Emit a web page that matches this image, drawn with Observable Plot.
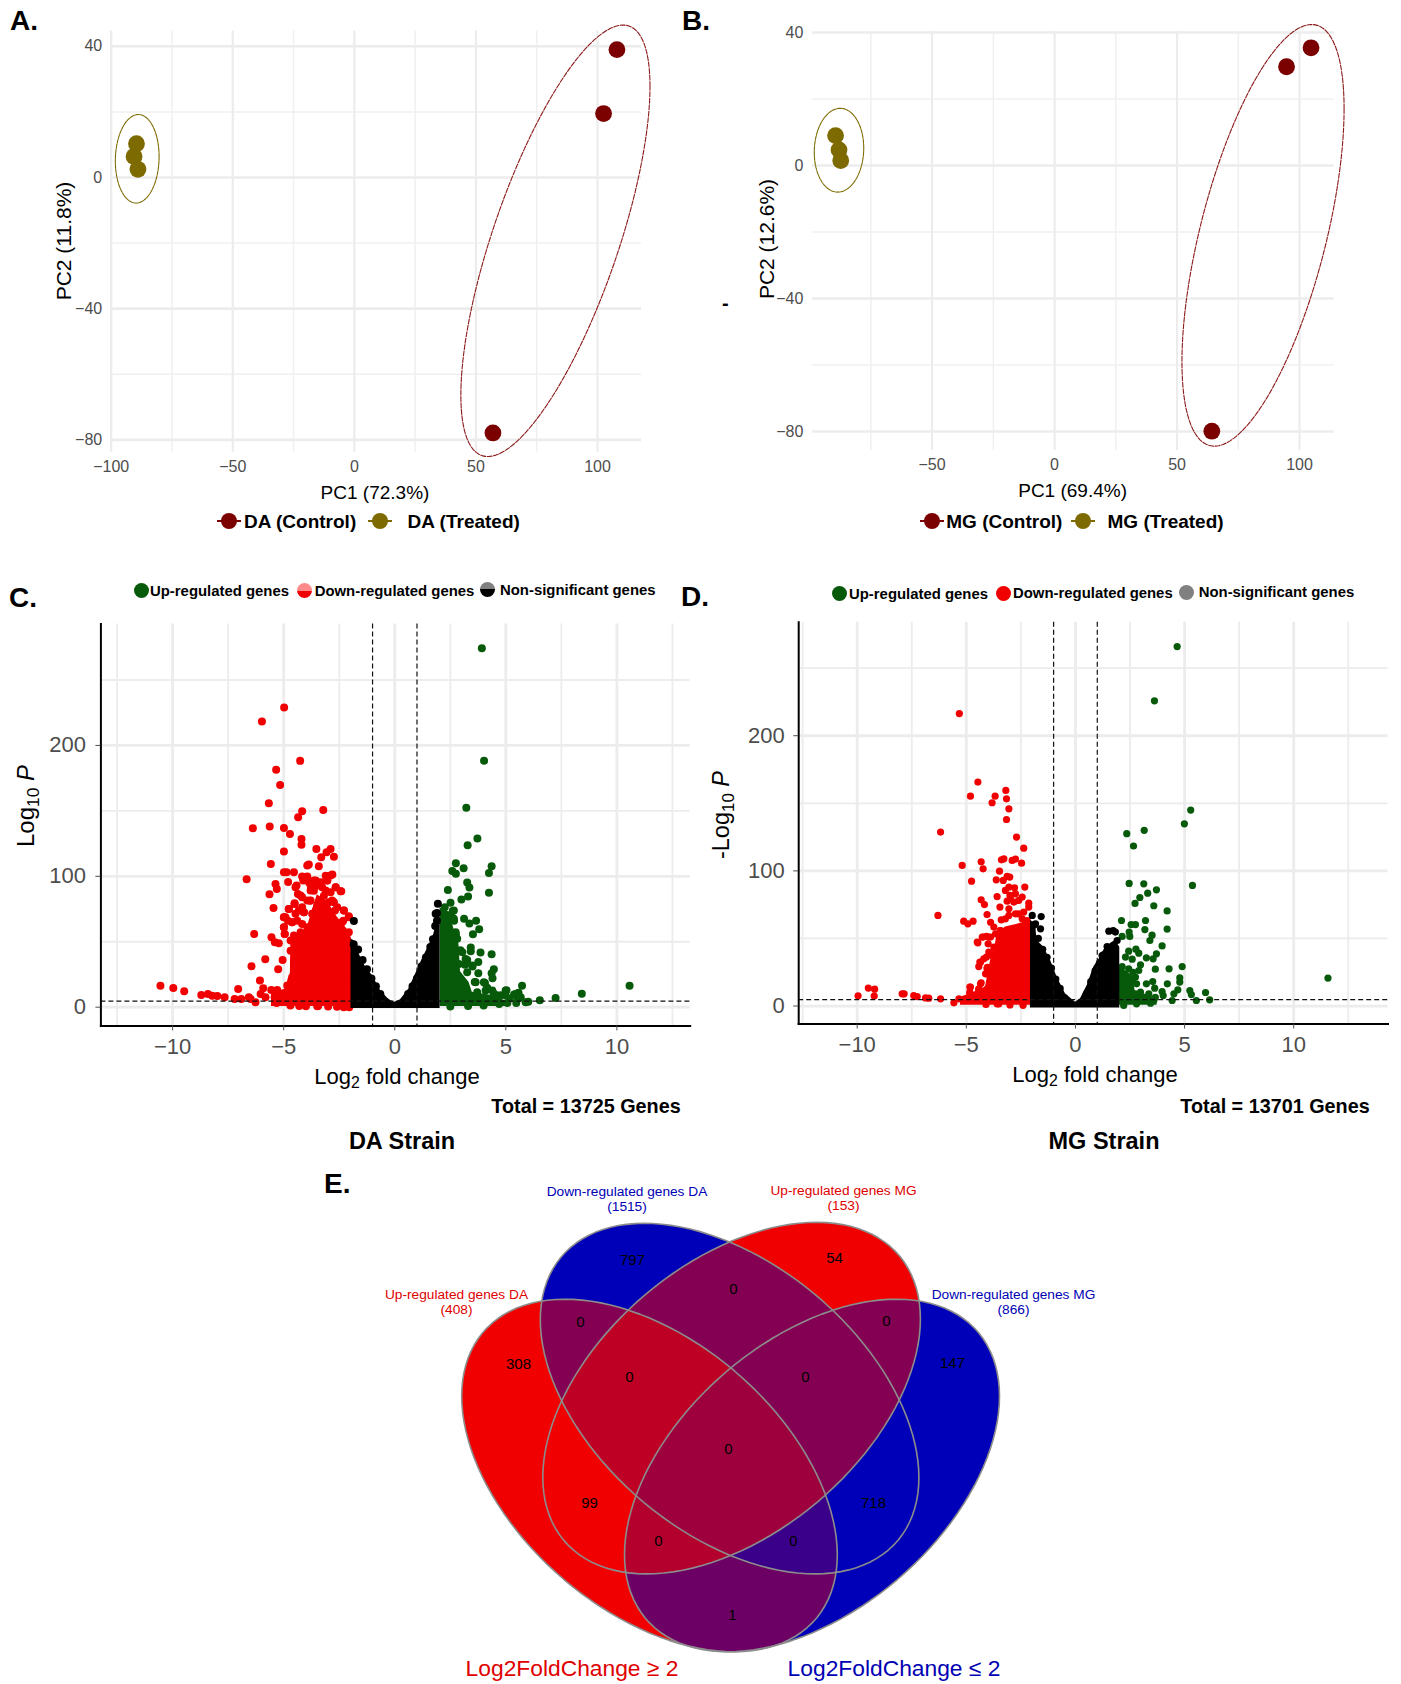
<!DOCTYPE html>
<html><head><meta charset="utf-8">
<script src="https://cdn.jsdelivr.net/npm/d3@7"></script>
<script src="https://cdn.jsdelivr.net/npm/@observablehq/plot@0.6"></script>
<style>
html,body{margin:0;padding:0;background:#fff}
#page{position:relative;width:1401px;height:1684px;overflow:hidden;font-family:"Liberation Sans",Arial,sans-serif}
#page svg{position:absolute;background:transparent}
.t{position:absolute;line-height:1;white-space:nowrap}
.t sub{font-size:.72em;line-height:0;vertical-align:-.28em}
.m{position:absolute}
</style></head><body><div id="page"></div>
<script>
// ---------- PCA data ----------
const paControl=[[108,39],[102.5,19.5],[57,-77.9]];
const paTreated=[[-89.6,10.3],[-90.6,6.4],[-89,2.5]];
const pbControl=[[104.7,35.4],[94.7,29.7],[64.2,-79.9]];
const pbTreated=[[-89.4,9],[-88,4.7],[-87.3,1.5]];
const paEllipses=[[82.7,-19.3,38.9,65.8,.715],[-89.3,5.7,9,13.5,.05]];
const pbEllipses=[[85.1,-21,33.1,63.4,.6],[-88,4.6,10.1,12.6,.05]];

// ---------- Volcano C (log2FC, -log10 P) ----------
const cRed=[[-4.98,229],[-5.98,218.2],[-4.26,188.2],[-5.34,181.5],[-5.16,169.8],[-5.67,155.8],[-3.22,150.7],[-4.17,149.7],[-4.35,145.1],[-6.39,136.7],[-5.63,138],[-4.99,137],[-4.72,132.4],[-4.2,128.5],[-4.2,124.2],[-4.99,118.9],[-3.53,120.9],[-2.89,120.9],[-3.07,118.4],[-2.74,115],[-3.31,114.5],[-5.58,109.4],[-3.87,109],[-3.94,108.2],[-3.42,107.7],[-2.81,101.3],[-4.99,103.1],[-4.87,103.1],[-4.54,103.1],[-3.11,100.5],[-3.94,99.8],[-4.17,99.8],[-6.67,97.7],[-4.12,96.7],[-3.56,96.7],[-3.04,96.7],[-4.8,95.7],[-5.37,94.1],[-3.79,92.9],[-3.49,92.9],[-4.42,92.9],[-3.27,91.6],[-2.66,91.6],[-5.31,90.3],[-3.64,89],[-2.44,88.5],[-2.89,87.8],[-4.36,86.5],[-5.64,86.3],[-3.19,85.2],[-4.17,84],[-3.82,81.4],[-3.34,81.4],[-2.74,80.1],[-2.97,80.1],[-4.51,79.4],[-3.19,76.3],[-5.46,75.8],[-4.77,75],[-4.32,73.8],[-3.56,73.8],[-2.29,73.8],[-2.69,73.8],[-4.09,72.5],[-4.92,68.7],[-4.99,68.7],[-3.11,68.7],[-2.06,68.7],[-4.81,66.1],[-4.39,66.1],[-3.64,66.1],[-2.89,66.1],[-2.32,66.1],[-4.62,64.8],[-4.99,61],[-3.94,61],[-3.42,61],[-2.59,61],[-6.33,55.9],[-4.95,55.9],[-4.17,55.9],[-3.79,55.9],[-5.55,53.4],[-4.54,53.4],[-4.39,53.4],[-4.02,53.4],[-5.4,49.6],[-5.22,48.8],[-4.69,43.2],[-5.83,36.6],[-5.05,36],[-4.54,35.5],[-6.45,31.2],[-4.51,29.2],[-5.25,28.9],[-4.62,22.8],[-6.07,20.3],[-4.66,20.3],[-4.39,17.7],[-10.55,16.4],[-4.81,15.9],[-9.97,14.6],[-5.92,14.4],[-7.05,13.9],[-5.56,13.1],[-5.29,13.1],[-9.48,12.1],[-6.04,10],[-8.41,10],[-8.71,9.3],[-8.22,8.8],[-7.99,8.5],[-5,8.5],[-7.66,7.5],[-6.57,7.5],[-5.41,7.5],[-5.82,7.5],[-7.21,6.2],[-6.91,6.2],[-6.49,6.2],[-6.27,3.7],[-5.32,3.2],[-3.49,.8],[-4,.7],[-3,.5],[-2.3,0],[-2.05,0]];
const cRedFringe=[[-4.47,91.7],[-4.24,85.3],[-4.02,98],[-3.64,94.2],[-3.79,89.1],[-3.34,95.5],[-2.89,100.6],[-2.66,91.7],[-2.41,88.6],[-3.11,89.1],[-2.82,81.5],[-2.29,73.8],[-2.07,69.5],[-4.51,78.9],[-4.77,75.1],[-4.99,68.7],[-4.62,64.9],[-4.99,61.1],[-4.96,56],[-4.47,71.3],[-4.09,72.6],[-3.72,71.3],[-4.17,63.6],[-4.54,54.7],[-4.24,57.3],[-4.47,38.2],[-4.54,31.8],[-4.47,25.4],[-4.84,16.5],[-2.07,57.3],[-3.79,81.5],[-3.34,81.5],[-4.17,76.4],[-3.94,81.5],[-3.49,77.7],[-4.69,50.9],[-2.59,76.4],[-2.37,64.9],[-3.04,96.8],[-3.64,96.8],[-3.87,95.5],[-3.9,40],[-3.45,1],[-4.3,.9],[-4.7,1.2],[-2.6,.4]];
const cGreen=[[3.92,274.3],[4.02,188.3],[3.22,152.3],[3.72,128.9],[3.28,123.7],[2.75,110],[3.1,106.1],[4.36,107.6],[2.59,104.1],[2.75,102],[4.24,102.6],[2.39,89.5],[3.26,95.3],[3.36,91.5],[3.3,84.5],[3,82.2],[4.24,87.4],[2.51,79.8],[2.61,73.4],[2.25,76.3],[3.12,67.5],[3.66,66.1],[3.36,64],[3.8,59.6],[3.52,55.8],[2.67,66.1],[2.55,69],[2.35,70.5],[2.75,55.8],[4.36,40.4],[3.86,41.8],[3.42,45.6],[3.42,42.7],[2.95,43.3],[2.65,44.2],[3.26,36],[3.76,34.5],[3.16,32.5],[3.5,31],[4.46,28.9],[4.36,26],[3.76,26],[4.4,22.2],[3.26,26.6],[3.6,19.3],[4.06,18.4],[4.16,14.9],[5.73,16.4],[5.03,12.9],[5.57,11.1],[5.37,9.6],[5.67,7.6],[4.76,9.1],[4.46,10.5],[5.17,6.7],[4.66,3.8],[5.07,3.2],[5.47,3.2],[6.01,4.1],[6.53,5.3],[7.24,7],[8.42,10.2],[10.57,16.4]];
const cGreenFringe=[[3.04,42],[2.96,43.3],[2.66,42],[3.19,36.9],[2.89,33],[3.49,31.8],[2.66,73.8],[2.66,67.5],[2.74,57.3],[2.81,52.2],[3.64,19],[4.01,19],[3.71,11.4],[4.09,12.7],[4.39,12.7],[4.61,8.9],[4.99,12.7],[4.99,8.9],[5.44,10.1],[5.52,6.3],[5.89,3.8],[3.3,1],[4,1.2],[2.5,.6],[4.7,2.5]];
const cBlack=[[-1.84,65.9],[1.94,79],[1.84,71.3],[1.9,66],[-1.85,48],[-1.65,44],[-1.45,36],[-1.25,29],[-1.05,22],[-.85,16],[-.65,10],[-.4,4],[.4,4],[.6,10],[.8,16],[1,22],[1.2,31],[1.4,38],[1.6,46],[1.72,52],[1.82,62],[1.9,72]];
const cRedMass=[[-5.55,10],[-4.9,14],[-4.7,26],[-4.68,48],[-3.94,61],[-3.49,86],[-3.04,81],[-2.59,69],[-2.07,58],[-1.94,52]];
const cGreenMass=[[2.04,76],[2.45,72],[2.75,55],[2.89,48],[2.96,27],[3.34,19],[3.49,11.4],[4.39,8.9],[5.14,3.8]];
const cBlackMass=[[-1.97,52],[-1.84,50.9],[-1.54,38.2],[-1.31,30.5],[-1.01,24.2],[-.64,12.7],[-.26,5.6],[0,3.8],[.26,5.6],[.64,14],[.94,25.4],[1.24,36.9],[1.54,47.1],[1.76,56],[1.91,66.2],[2.04,73.9]];

// ---------- Volcano D ----------
const dRed=[[-5.32,216.4],[-4.47,165.7],[-4.81,155.3],[-3.19,159.5],[-3.68,155.3],[-3.82,150.4],[-3.16,153.3],[-3.05,145.9],[-3.16,138],[-6.18,128.7],[-2.7,125],[-2.37,116.8],[-5.19,104],[-4.32,106.7],[-4.23,101.5],[-3.28,108.9],[-3.39,108.2],[-2.9,107.7],[-2.75,108.7],[-2.47,105.7],[-3.48,99.8],[-4.76,92.4],[-3.63,93.4],[-3.31,92.9],[-3.13,95.9],[-3.01,95.4],[-2.32,88],[-3.05,88],[-2.79,87.5],[-3.21,85.5],[-2.75,83],[-3.59,81],[-3,81.8],[-2.6,78.1],[-4.32,78.6],[-4.17,75.1],[-3.13,77.6],[-3.46,73.2],[-2.14,76.1],[-2.14,73.2],[-4.05,67.7],[-6.3,67],[-5.12,62.8],[-4.93,60.8],[-4.69,62.8],[-3.89,62],[-3.74,58.4],[-3.4,63.8],[-3.05,67],[-2.6,68.2],[-2.37,69.5],[-3.44,55.9],[-4.23,51],[-3.97,51],[-4.47,46.8],[-4,46],[-3.89,39.3],[-4.08,36.2],[-4.35,32.4],[-4.43,29.2],[-4.04,28.7],[-4.08,23.8],[-4.84,14],[-4.32,17.2],[-4.43,12],[-4.84,9],[-4.99,4.1],[-5.34,5.3],[-5.57,2.4],[-4.58,4.1],[-7.94,9],[-7.85,9],[-7.41,7.8],[-7.25,7],[-6.87,6],[-6.72,5.8],[-6.18,5.3],[-4.04,12.7],[-3.51,1.6],[-9.96,7.6],[-9.49,13.3],[-9.2,12.5],[-9.22,7.4]];
const dRedFringe=[[-3.05,71.9],[-2.98,79.3],[-2.44,80.6],[-2.75,68.2],[-2.44,64.5],[-2.21,63.3],[-2.82,76.9],[-4.5,47.3],[-4.27,51],[-4.08,51.5],[-3.89,51],[-3.97,39.9],[-4.2,34.9],[-4.38,32.5],[-4.05,27.5],[-4.12,23.8],[-4.35,16.4],[-4.81,14],[-4.84,10.3],[-4.43,12.7],[-3.44,55.9],[-3.28,54.7],[-3.21,64.5],[-3.66,53.4],[-3.74,43.6],[-3.82,37.4],[-3.59,1.6],[-4.1,1.2],[-3,.8],[-2.4,.5]];
const dGreen=[[4.66,266],[3.62,225.8],[5.28,145],[4.99,134.8],[3.15,130],[2.35,127.5],[2.66,118.4],[5.36,89.2],[11.57,20.7],[2.46,90.7],[3.13,90.4],[3.71,86],[3.31,83.5],[2.95,80.3],[2.73,75.9],[3.59,74.2],[4.2,70.4],[2.11,63.3],[3.21,63.3],[2.55,60.3],[2.75,60.3],[3.18,56.6],[4.2,56.9],[2.46,54.7],[2.14,51.5],[2.49,51.5],[3.51,52.4],[3.41,48.5],[3.97,44.5],[2.77,42.1],[2.9,39.1],[2.44,40.6],[2.29,36.2],[2.6,34.7],[3.25,35.7],[3.71,38.6],[3.56,34.9],[2.98,30.5],[3.66,27.3],[4.29,27.5],[4.89,29.2],[2.9,26.3],[2.75,21.4],[4.78,20.9],[4.78,17.7],[4.21,16.4],[3.25,16.4],[3.54,18.1],[3.63,13.2],[4.69,12],[4.51,9],[5.24,11.5],[5.31,8.5],[5.96,10],[3.97,10.7],[4.02,7.8],[4.43,4.1],[5.54,4.1],[6.15,4.6],[3.59,4.1],[2.98,10.3]];
const dGreenFringe=[[2.14,29.2],[2.44,27.5],[2.64,25],[2.21,22.6],[2.6,18.9],[2.8,16.4],[3.36,9],[3.66,6.5],[2.75,9],[2.37,6.5],[2.21,.4],[2.8,1.6],[3.44,2.1]];
const dBlack=[[-1.98,67],[-1.57,66.2],[-1.6,57.1],[-1.83,60.8],[1.53,55.4],[1.73,55.9],[1.83,54.7],[1.91,48.5],[1.45,44],[1.6,42.3],[1.22,37.4],[-1.9,60],[-1.7,50],[-1.5,42],[-1.3,36],[-1.1,28],[-.9,20],[-.7,13],[-.5,6],[.5,9],[.7,18],[.9,26],[1.1,32],[1.3,38],[1.5,43],[1.75,45]];
const dRedMass=[[-5.27,6.5],[-4.81,9],[-4.12,14],[-3.89,33.7],[-3.74,38.6],[-3.59,53.4],[-3.21,58.4],[-2.6,60.8],[-2.03,63.3]];
const dGreenMass=[[1.98,31.2],[2.29,26.3],[2.6,22.6],[2.75,10.3],[3.44,7.8],[3.74,4.1]];
const dBlackMass=[[-2.06,63.3],[-1.83,60.8],[-1.76,48.5],[-1.45,43.5],[-1.14,33.7],[-.84,21.3],[-.46,9],[0,2.8],[.23,5.3],[.54,15.2],[.84,28.8],[1.15,36.2],[1.37,43.5],[1.6,46],[1.83,48.5],[2.03,43.5]];

// ---------- Venn ----------
const vennCounts=["797","54","0","0","0","308","147","0","0","0","99","718","0","0","1"];
const vennCountAt=[[632,1260],[834,1258],[733,1289],[580,1322],[886,1321],[518,1364],[952,1363],[629,1377],[805,1377],[728,1449],[589,1503],[873,1503],[658,1541],[793,1541],[732,1615]];
const vennShapes=[[649,1475,187.8,176.3,.45],[811.5,1475,187.5,176.3,-.45],[729.1,1398.1,189.3,175.3,.45],[731.1,1397.6,188.8,175.8,-.45]];
const vennShapeColors=["#f00000","#0000b8","#0000b8","#f00000"];
const vennLayerAlpha=[1,.55,.45,.55];
const vennSets=["Up-regulated genes DA\n(408)","Down-regulated genes MG\n(866)","Down-regulated genes DA\n(1515)","Up-regulated genes MG\n(153)"];
const vennSetAt=[[456,1301],[1013,1301],[626.5,1198],[843,1197]];

// ---------- shared ----------
const page=document.getElementById("page");
const FONT='"Liberation Sans",Arial,sans-serif';
const TICK="#4d4d4d", GRID="#ececec", GRID2="#f0f0f0";
const DARKRED="#7b0000", OLIVE="#7d6a00", RED="#f00000", GREEN="#075a0a";

function ellipse([cx,cy,rx,ry,c]){
  const phi=Math.acos(c);
  return d3.range(0,121).map(i=>{const t=i/120*2*Math.PI;return [cx+rx*Math.cos(t),cy+ry*Math.cos(t-phi)];});
}
function place(svg,left,top){svg.style.left=left+"px";svg.style.top=top+"px";page.appendChild(svg);}
function label(html,x,y,o={}){
  const d=document.createElement("div");d.className="t";d.innerHTML=html;
  d.style.left=x+"px";d.style.top=y+"px";
  d.style.fontSize=(o.size||16)+"px";d.style.fontWeight=o.bold?"700":"400";d.style.color=o.color||"#000";
  const ax=o.anchor==="start"?"0":o.anchor==="end"?"-100%":"-50%";
  d.style.transform=`translate(${ax},-50%)`+(o.rotate?` rotate(${o.rotate}deg)`:"")+(o.sy?` scaleY(${o.sy})`:"");
  d.style.transformOrigin=o.anchor==="start"?"left center":"center";
  page.appendChild(d);return d;
}
function marker(cx,cy,r,bg,line){
  if(line){const l=document.createElement("div");l.className="m";
    l.style.cssText+=`left:${cx-12}px;top:${cy-1}px;width:24px;height:2px;background:${line}`;page.appendChild(l);}
  const m=document.createElement("div");m.className="m";
  m.style.cssText+=`left:${cx-r}px;top:${cy-r}px;width:${2*r}px;height:${2*r}px;border-radius:50%;background:${bg}`;
  page.appendChild(m);
}

// ---------- PCA ----------
function pca({left,width,height,mt,mb,ml,mr,xd,yd,xTicks,xMinor,control,treated,ellipses}){
  const svg=Plot.plot({width,height,marginTop:mt,marginBottom:mb,marginLeft:ml,marginRight:mr,
    style:{fontFamily:FONT,background:"transparent",overflow:"visible"},
    x:{domain:xd,label:null},y:{domain:yd,label:null},
    marks:[
      Plot.ruleX(xMinor,{stroke:GRID2,strokeWidth:1.5}),
      Plot.ruleY([20,-20,-60],{stroke:GRID2,strokeWidth:1.5}),
      Plot.ruleX(xTicks,{stroke:GRID,strokeWidth:2.2}),
      Plot.ruleY([40,0,-40,-80],{stroke:GRID,strokeWidth:2.6}),
      Plot.axisX(xTicks,{anchor:"bottom",tickSize:0,tickPadding:8,fontSize:16,color:TICK,label:null}),
      Plot.axisY([40,0,-40,-80],{anchor:"left",tickSize:0,tickPadding:9,fontSize:16,color:TICK,label:null}),
      Plot.line(ellipse(ellipses[0]),{x:"0",y:"1",stroke:"#8b1a1a",strokeWidth:1.1,strokeDasharray:"5,1.5"}),
      Plot.line(ellipse(ellipses[1]),{x:"0",y:"1",stroke:OLIVE,strokeWidth:1.1,strokeDasharray:"4,1"}),
      Plot.dot(control,{x:"0",y:"1",r:8.4,fill:DARKRED}),
      Plot.dot(treated,{x:"0",y:"1",r:8.4,fill:OLIVE})
    ]});
  place(svg,left,0);
}
pca({left:0,width:680,height:480,mt:30.4,mb:28.2,ml:110.7,mr:39,xd:[-100,118.1],yd:[-83.8,44.7],
  xTicks:[-100,-50,0,50,100],xMinor:[-75,-25,25,75],control:paControl,treated:paTreated,ellipses:paEllipses});
pca({left:680,width:721,height:480,mt:31,mb:30,ml:131.8,mr:67.2,xd:[-98.9,114.2],yd:[-85.7,40.3],
  xTicks:[-50,0,50,100],xMinor:[-75,-25,25,75],control:pbControl,treated:pbTreated,ellipses:pbEllipses});

// ---------- Volcano ----------
function volcano({left,width,height,top,mt,mb,ml,mr,xd,yd,red,green,black,redMass,greenMass,blackMass,r,redFloor,blackFloor,greenFloor,yPad}){
  const mass=(rows,floor,fill)=>Plot.areaY(rows,{x:"0",y1:()=>floor,y2:"1",fill});
  const svg=Plot.plot({width,height,marginTop:mt,marginBottom:mb,marginLeft:ml,marginRight:mr,
    style:{fontFamily:FONT,background:"transparent",overflow:"visible"},
    x:{domain:xd,label:null},y:{domain:yd,label:null},
    marks:[
      Plot.ruleX([-12.5,-7.5,-2.5,2.5,7.5,12.5].filter(v=>v>xd[0]&&v<xd[1]),{stroke:GRID,strokeWidth:1.8}),
      Plot.ruleY([50,150,250],{stroke:GRID,strokeWidth:1.8}),
      Plot.ruleX([-10,-5,0,5,10],{stroke:GRID,strokeWidth:2.8}),
      Plot.ruleY([0,100,200],{stroke:GRID,strokeWidth:2.8}),
      mass(greenMass,greenFloor,GREEN),
      mass(redMass,redFloor,RED),
      Plot.dot(green,{x:"0",y:"1",r,fill:GREEN}),
      Plot.dot(red,{x:"0",y:"1",r,fill:RED}),
      mass(blackMass,blackFloor,"#000"),
      Plot.dot(black,{x:"0",y:"1",r,fill:"#000"}),
      Plot.ruleX([-1,1],{stroke:"#111",strokeWidth:1.2,strokeDasharray:"5,3"}),
      Plot.ruleY([4.7],{stroke:"#111",strokeWidth:1.2,strokeDasharray:"5,3"}),
      Plot.frame({anchor:"left",stroke:"#000",strokeWidth:2}),
      Plot.frame({anchor:"bottom",stroke:"#000",strokeWidth:2}),
      Plot.axisX([-10,-5,0,5,10],{anchor:"bottom",tickSize:5,tickPadding:7,fontSize:22,color:TICK,label:null}),
      Plot.axisY([0,100,200],{anchor:"left",tickSize:5,tickPadding:yPad,fontSize:22,color:TICK,label:null})
    ]});
  place(svg,left,top);
}
volcano({left:0,top:560,width:700,height:520,mt:63.6,mb:54.6,ml:100.4,mr:10.3,xd:[-13.23,13.3],yd:[-14.3,292.7],yPad:10,
  red:[...cRed,...cRedFringe],green:[...cGreen,...cGreenFringe],black:cBlack,redMass:cRedMass,greenMass:cGreenMass,blackMass:cBlackMass,r:4,redFloor:.5,blackFloor:-1,greenFloor:.5});
volcano({left:700,top:560,width:701,height:520,mt:61.7,mb:56.5,ml:98.2,mr:13.5,xd:[-12.68,14.32],yd:[-13.3,284],yPad:9,
  red:[...dRed,...dRedFringe],green:[...dGreen,...dGreenFringe],black:dBlack,redMass:dRedMass,greenMass:dGreenMass,blackMass:dBlackMass,r:3.6,redFloor:.5,blackFloor:-1.4,greenFloor:.5});

// ---------- Venn ----------
const vennShapesPts=vennShapes.map(ellipse);
const vennCountRows=vennCounts.map((c,i)=>({c,x:vennCountAt[i][0],y:vennCountAt[i][1]}));
const vennSetRows=vennSets.map((s,i)=>({s,x:vennSetAt[i][0],y:vennSetAt[i][1],col:vennShapeColors[i]==="#f00000"?"#e00000":"#0000b4"}));
const vennMarks=[];
[3,2,1,0].forEach(i=>vennMarks.push(Plot.line(vennShapesPts[i],{x:"0",y:"1",fill:vennShapeColors[i],stroke:"none"})));
[1,2,3].forEach(i=>vennMarks.push(Plot.line(vennShapesPts[i],{x:"0",y:"1",fill:vennShapeColors[i],fillOpacity:vennLayerAlpha[i],stroke:"none"})));
[0,1,2,3].forEach(i=>vennMarks.push(Plot.line(vennShapesPts[i],{x:"0",y:"1",stroke:"#8c8c8c",strokeWidth:1.6})));
vennMarks.push(Plot.text(vennCountRows,{x:"x",y:"y",text:"c",fontSize:15,fill:"#000"}));
vennMarks.push(Plot.text(vennSetRows,{x:"x",y:"y",text:"s",fontSize:13.7,fill:"col",lineHeight:1.15}));
const vennSvg=Plot.plot({width:800,height:520,marginTop:0,marginBottom:0,marginLeft:0,marginRight:0,
  style:{fontFamily:FONT,background:"transparent"},
  x:{domain:[300,1100],axis:null},y:{domain:[1684,1164],axis:null},color:{type:"identity"},marks:vennMarks});
place(vennSvg,300,1164);

// ---------- text ----------
[["A.",10,21],["B.",682,21],["C.",9,598],["D.",681,597],["E.",324,1184]].forEach(([s,x,y])=>label(s,x,y,{anchor:"start",size:28,bold:true}));
label("-",722,303,{anchor:"start",size:20,bold:true});

label("PC1 (72.3%)",375,492,{size:19});
label("PC2 (11.8%)",63,241,{size:21,rotate:-90});
label("PC1 (69.4%)",1072.6,490,{size:19});
label("PC2 (12.6%)",766,239,{size:21,rotate:-90});

marker(229,521,8,DARKRED,DARKRED);label("DA (Control)",244,521,{anchor:"start",size:19,bold:true});
marker(379.5,521,8,OLIVE,OLIVE);label("DA (Treated)",407.6,521,{anchor:"start",size:19,bold:true});
marker(931.6,520.7,8,DARKRED,DARKRED);label("MG (Control)",946.3,520.7,{anchor:"start",size:19,bold:true});
marker(1082.7,520.7,8,OLIVE,OLIVE);label("MG (Treated)",1107.5,520.7,{anchor:"start",size:19,bold:true});

const half=(a,b)=>`linear-gradient(${a} 50%,${b} 50%)`;
marker(141,590,7.5,GREEN);label("Up-regulated genes",150,591,{anchor:"start",size:14.9,bold:true});
marker(304.5,590,7.5,half("#ff8a8a",RED));label("Down-regulated genes",314.7,591,{anchor:"start",size:14.9,bold:true});
marker(487.5,589,7.5,half("#808080","#000"));label("Non-significant genes",500,590,{anchor:"start",size:14.9,bold:true});
marker(839.7,593,7.5,GREEN);label("Up-regulated genes",849,594,{anchor:"start",size:14.9,bold:true});
marker(1003,593,7.5,RED);label("Down-regulated genes",1013,593,{anchor:"start",size:14.9,bold:true});
marker(1186,592,7.5,"#808080");label("Non-significant genes",1198.7,592,{anchor:"start",size:14.9,bold:true});

label("Log<sub>2</sub> fold change",397,1077,{size:22});
label("Log<sub>2</sub> fold change",1095,1075,{size:22});
label("Log<sub>10</sub> <i>P</i>",26,806,{size:24,rotate:-90});
label("-Log<sub>10</sub> <i>P</i>",722,815,{size:23.5,rotate:-90});
label("Total = 13725 Genes",586,1106.5,{size:19.8,bold:true});
label("Total = 13701 Genes",1275,1106.5,{size:19.8,bold:true});
label("DA Strain",402,1142,{size:23.5,bold:true});
label("MG Strain",1104,1142,{size:23.5,bold:true});
label("Log2FoldChange ≥ 2",572,1668,{size:22.8,color:"#e00000"});
label("Log2FoldChange ≤ 2",894,1668,{size:22.8,color:"#0000b4"});
</script></body></html>
